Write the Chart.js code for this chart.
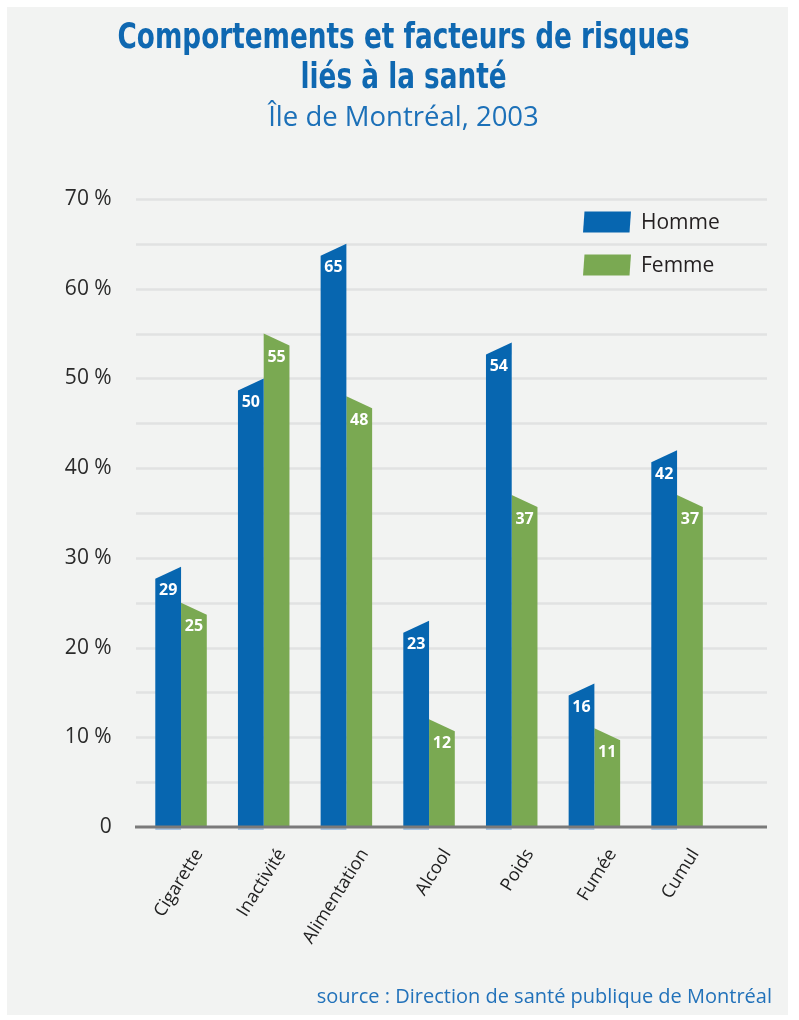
<!DOCTYPE html>
<html lang="fr">
<head>
<meta charset="utf-8">
<script src="https://cdn.jsdelivr.net/npm/chart.js@4.4.1/dist/chart.umd.min.js"></script>
<style>
  html, body { margin: 0; padding: 0; background: #fff; }
  #page { position: relative; width: 799px; height: 1020px; overflow: hidden; }
  #panel { position: absolute; left: 7px; top: 7px; width: 781px; height: 1008px; background: #f2f3f2; }
  #chart { position: absolute; left: 0; top: 0; }
  .title {
    position: absolute; left: 4px; width: 799px; text-align: center; color: #0f68b1;
    font-family: "Liberation Sans Narrow", "DejaVu Sans Condensed", sans-serif;
    font-weight: bold; font-size: 35px; line-height: 40px; white-space: nowrap;
    transform: scaleX(0.835); transform-origin: 400px 0;
  }
  #subtitle {
    position: absolute; left: 4px; width: 799px; text-align: center; color: #1c70b8;
    font-family: "Open Sans", sans-serif; font-size: 27.5px; line-height: 30px;
  }
  #source {
    position: absolute; right: 27px; top: 983px; color: #2272ba;
    font-family: "Open Sans", sans-serif; font-size: 20px; line-height: 26px;
  }
</style>
</head>
<body>
<div id="page">
  <div id="panel"></div>
  <canvas id="chart" width="799" height="1020"></canvas>
  <div class="title" style="top:16px">Comportements et facteurs de risques</div>
  <div class="title" style="top:56px">liés à la santé</div>
  <div id="subtitle" style="top:101px">Île de Montréal, 2003</div>
  <div id="source">source : Direction de santé publique de Montréal</div>
</div>
<script>
// --- DONNÉES ---
const categories = ['Cigarette', 'Inactivité', 'Alimentation', 'Alcool', 'Poids', 'Fumée', 'Cumul'];
const hommeValues = [29, 50, 65, 23, 54, 16, 42];
const femmeValues = [25, 55, 48, 12, 37, 11, 37];
const yTickLabels = { 0: '0', 10: '10 %', 20: '20 %', 30: '30 %', 40: '40 %', 50: '50 %', 60: '60 %', 70: '70 %' };

const BLUE = '#0766b0';
const GREEN = '#7aa952';
const SLANT = 12;
const GRID_LEFT = 136;
const GRID_RIGHT = 767;

// --- PLUGIN : barres biseautées, grille, légende ---
const slantBars = {
    id: 'slantBars',
    beforeDatasetsDraw(chart) {
        const { ctx, scales: { y } } = chart;
        ctx.save();
        ctx.strokeStyle = '#e1e2e2';
        ctx.lineWidth = 2.5;
        y.ticks.forEach(t => {
            if (t.value === 0) return;
            const py = Math.round(y.getPixelForValue(t.value)) + 0.5;
            ctx.beginPath();
            ctx.moveTo(GRID_LEFT, py);
            ctx.lineTo(GRID_RIGHT, py);
            ctx.stroke();
        });
        ctx.restore();
    },
    beforeDatasetDraw(chart, args) {
        const { ctx } = chart;
        const meta = args.meta;
        const ds = chart.data.datasets[args.index];
        ctx.save();
        ctx.fillStyle = ds.backgroundColor;
        meta.data.forEach(bar => {
            const { x, y, base, width } = bar.getProps(['x', 'y', 'base', 'width'], true);
            const l = x - width / 2, r = x + width / 2;
            ctx.beginPath();
            ctx.moveTo(l, base);
            if (args.index === 0) {
                ctx.lineTo(l, y + SLANT);
                ctx.lineTo(r, y);
            } else {
                ctx.lineTo(l, y);
                ctx.lineTo(r, y + SLANT);
            }
            ctx.lineTo(r, base);
            ctx.closePath();
            ctx.fill();
            if (args.index === 0) {
                ctx.fillStyle = '#a9c5e2';
                ctx.fillRect(l, base + 1, width, 2);
                ctx.fillStyle = ds.backgroundColor;
            }
        });
        ctx.restore();
        return false;
    },
    afterDatasetsDraw(chart) {
        const { ctx, scales: { y } } = chart;
        ctx.save();
        // axe du zéro
        const y0 = y.getPixelForValue(0);
        ctx.strokeStyle = '#7a7a7a';
        ctx.lineWidth = 3;
        ctx.beginPath();
        ctx.moveTo(GRID_LEFT - 1, y0);
        ctx.lineTo(GRID_RIGHT, y0);
        ctx.stroke();

        // valeurs dans les barres
        ctx.fillStyle = '#ffffff';
        ctx.font = 'bold 16px "Open Sans"';
        ctx.textAlign = 'center';
        ctx.textBaseline = 'middle';
        chart.data.datasets.forEach((ds, i) => {
            chart.getDatasetMeta(i).data.forEach((bar, j) => {
                const { x, y: top } = bar.getProps(['x', 'y'], true);
                ctx.fillText(String(ds.data[j]), x, top + SLANT + 12);
            });
        });

        // légende
        const legendRows = [222, 265];
        chart.data.datasets.forEach((ds, i) => {
            const cy = legendRows[i];
            ctx.fillStyle = ds.backgroundColor;
            ctx.beginPath();
            ctx.moveTo(584.5, cy - 10.5);
            ctx.lineTo(631, cy - 10.5);
            ctx.lineTo(629.5, cy + 10.5);
            ctx.lineTo(583, cy + 10.5);
            ctx.closePath();
            ctx.fill();
            ctx.fillStyle = '#231f20';
            ctx.font = '21px "Open Sans"';
            ctx.textAlign = 'left';
            ctx.fillText(ds.label, 641, cy + 1);
        });
        ctx.restore();
    }
};

new Chart(document.getElementById('chart'), {
    type: 'bar',
    data: {
        labels: categories,
        datasets: [
            { label: 'Homme', data: hommeValues, backgroundColor: BLUE },
            { label: 'Femme', data: femmeValues, backgroundColor: GREEN }
        ]
    },
    options: {
        responsive: false,
        animation: false,
        devicePixelRatio: 1,
        layout: { padding: { top: 199, right: 80.6, left: 0, bottom: 0 } },
        datasets: { bar: { categoryPercentage: 0.623, barPercentage: 1 } },
        plugins: {
            legend: { display: false },
            title: { display: false },
            tooltip: { enabled: false }
        },
        scales: {
            x: {
                grid: { display: false, drawTicks: false },
                border: { display: false },
                ticks: {
                    autoSkip: false,
                    minRotation: 58,
                    maxRotation: 58,
                    labelOffset: 18,
                    padding: 18,
                    color: '#222',
                    font: { family: 'Open Sans', size: 18 }
                },
                afterFit(scale) { scale.height = 1020 - 827; }
            },
            y: {
                min: 0,
                max: 70,
                grid: { display: false, drawTicks: false },
                border: { display: false },
                ticks: {
                    stepSize: 5,
                    padding: 28,
                    color: '#2b2b2b',
                    font: { family: 'Open Sans', size: 21 },
                    callback: v => yTickLabels[v] || ''
                },
                afterFit(scale) { scale.width = 139.7; }
            }
        }
    },
    plugins: [slantBars]
});
</script>
</body>
</html>
